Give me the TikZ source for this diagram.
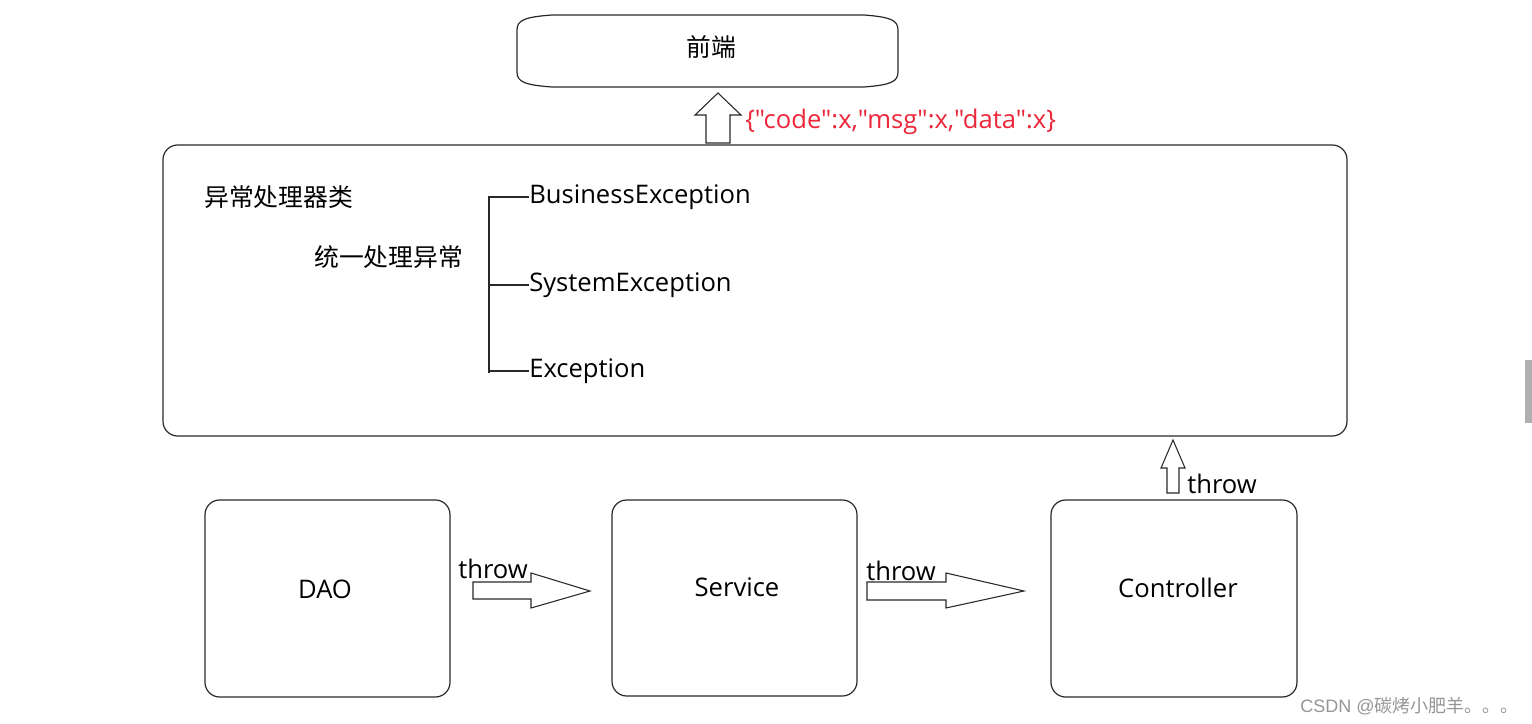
\documentclass[tikz,border=0pt]{standalone}
\usepackage{fontspec}
\setmainfont{Noto Sans CJK SC}
\newfontfamily\lat{Open Sans}
\newfontfamily\wmlat{Liberation Sans}
\definecolor{jsonred}{RGB}{238,38,58}
\definecolor{wmgray}{RGB}{150,150,150}
\definecolor{linegray}{RGB}{40,40,40}
\definecolor{bargray}{RGB}{176,176,176}
\tikzset{
  txt/.style={font=\fontsize{18.6}{22}\selectfont, inner sep=0pt},
  ltxt/.style={font=\lat\fontsize{19.2}{23}\selectfont, inner sep=0pt},
  box/.style={draw=linegray, line width=0.9pt, rounded corners=11pt, inner sep=0pt},
  blockarrow/.style={draw=linegray, line width=0.8pt, fill=white, line join=miter},
  thin/.style={draw=linegray, line width=0.9pt}
}
\begin{document}
\begin{tikzpicture}[x=0.75pt,y=-0.75pt]
\useasboundingbox[fill=white] (0,0) rectangle (1532,724);

% front-end node
\node[txt] (fe) at (711,47) {前端};
\draw[thin] (552,15) -- (864,15)
  .. controls (890,17) and (898,20) .. (898,30)
  -- (898,72)
  .. controls (898,82) and (890,85) .. (864,87)
  -- (552,87)
  .. controls (525,85) and (517,82) .. (517,72)
  -- (517,30)
  .. controls (517,20) and (525,17) .. (552,15) -- cycle;

% handler box
\node[box, minimum width=1184*0.75pt, minimum height=291*0.75pt] (handler) at (755,290.5) {};
\node[txt, anchor=west] (cls) at (204,197) {异常处理器类};
\node[txt, anchor=west] (uni) at (314,257) {统一处理异常};
\node[ltxt, anchor=west] (be) at (529,197) {BusinessException};
\node[ltxt, anchor=west] (se) at (529,285) {SystemException};
\node[ltxt, anchor=west] (ex) at (529,371) {Exception};
\coordinate (br) at (489,197);
\draw[thin] (br) -- (489,373);
\draw[thin] (488,197) -- (be.west);
\draw[thin] (br |- se.west) -- (se.west);
\draw[thin] (br |- ex.west) -- (ex.west);

% up arrow to front end
\draw[blockarrow] (706,143) -- (706,115) -- (695,115) -- (718,93) -- (741,115) -- (730,115) -- (730,143) -- cycle;
\node[ltxt, anchor=west, text=jsonred] (json) at (745,122) {\{"code":x,"msg":x,"data":x\}};

% bottom boxes
\node[box, minimum width=245*0.75pt, minimum height=197*0.75pt] (dao) at (327.5,598.5) {};
\node[ltxt] (daot) at (325,589) {DAO};
\node[box, minimum width=245*0.75pt, minimum height=196*0.75pt] (svc) at (734.5,598) {};
\node[ltxt] (svct) at (737,587) {Service};
\node[box, minimum width=246*0.75pt, minimum height=197*0.75pt] (ctl) at (1174,598.5) {};
\node[ltxt] (ctlt) at (1178,588) {Controller};

% throw arrows
\draw[blockarrow] (473,582) -- (531,582) -- (531,573) -- (590,591) -- (531,608) -- (531,599) -- (473,599) -- cycle;
\node[ltxt, anchor=west] (t1) at (458,569) {throw};
\draw[blockarrow] (867,582) -- (946,582) -- (946,573) -- (1024,591) -- (946,608) -- (946,600) -- (867,600) -- cycle;
\node[ltxt, anchor=west] (t2) at (866,571) {throw};
\draw[blockarrow] (1167,493) -- (1167,468) -- (1161,468) -- (1173,440) -- (1185,468) -- (1179,468) -- (1179,493) -- cycle;
\node[ltxt, anchor=west] (t3) at (1187,484) {throw};

% watermark and scrollbar
\node[anchor=west, inner sep=0pt, text=wmgray, font=\fontsize{13.5}{16}\selectfont] (wm) at (1300,706) {{\wmlat CSDN @}碳烤小肥羊。。。};
\fill[bargray] (1525,360) rectangle (1532,423);
\end{tikzpicture}
\end{document}
